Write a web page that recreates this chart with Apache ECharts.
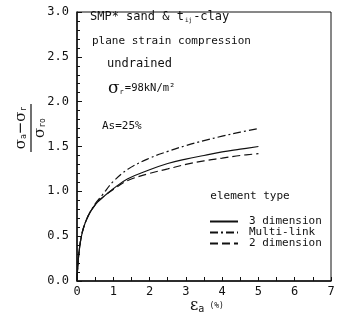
<!DOCTYPE html>
<html>
<head>
<meta charset="utf-8">
<script src="https://cdn.jsdelivr.net/npm/echarts@6/dist/echarts.min.js"></script>
<style>
  html, body { margin: 0; padding: 0; background: #fff; }
  #chart { width: 338px; height: 322px; }
</style>
</head>
<body>
<div id="chart"></div>
<script>
// strain (%) sampled along the curves
const strain = [0, 0.05, 0.15, 0.3, 0.5, 0.7, 1.0, 1.4, 2.0, 2.5, 3.0, 3.5, 4.0, 4.5, 5.0];
// normalized deviator stress
const threeDim = [0, 0.3, 0.55, 0.72, 0.85, 0.93, 1.03, 1.14, 1.24, 1.31, 1.36, 1.40, 1.44, 1.47, 1.50];
const multiLink = [0, 0.3, 0.55, 0.72, 0.86, 0.96, 1.11, 1.245, 1.37, 1.445, 1.51, 1.565, 1.615, 1.66, 1.70];
const twoDim = [0, 0.3, 0.55, 0.72, 0.85, 0.93, 1.02, 1.12, 1.20, 1.25, 1.30, 1.34, 1.37, 1.40, 1.42];
const seriesNames = ['3 dimension', 'Multi-link', '2 dimension'];

const mono = '"DejaVu Sans Mono", "Liberation Mono", monospace';
const ink = '#111';

const pairs = (ys) => strain.map((x, i) => [x, ys[i]]);

const lineSeries = (name, ys, type) => ({
  name: name,
  type: 'line',
  data: pairs(ys),
  symbol: 'none',
  smooth: 0.4,
  lineStyle: { color: ink, width: 1.2, type: type },
  itemStyle: { color: ink },
  animation: false
});

const chart = echarts.init(document.getElementById('chart'));

chart.setOption({
  backgroundColor: '#fff',
  animation: false,
  grid: {
    left: 77, right: 7, top: 12, bottom: 41,
    show: true, borderColor: ink, borderWidth: 1
  },
  xAxis: {
    type: 'value',
    min: 0, max: 7, interval: 1,
    axisLine: { show: true, onZero: false, lineStyle: { color: ink, width: 1.5 } },
    axisTick: { show: true, inside: true, length: 4, lineStyle: { color: ink } },
    minorTick: { show: true, splitNumber: 2, length: 4, lineStyle: { color: ink } },
    axisLabel: { color: ink, fontFamily: mono, fontSize: 12, margin: 5 },
    splitLine: { show: false }
  },
  yAxis: {
    type: 'value',
    min: 0, max: 3, interval: 0.5,
    axisLine: { show: true, onZero: false, lineStyle: { color: ink, width: 1.5 } },
    axisTick: { show: true, inside: true, length: 5, lineStyle: { color: ink } },
    minorTick: { show: true, splitNumber: 5, length: 3, lineStyle: { color: ink } },
    axisLabel: {
      color: ink, fontFamily: mono, fontSize: 12, margin: 8,
      formatter: (v) => v.toFixed(1)
    },
    splitLine: { show: false }
  },
  legend: {
    data: seriesNames,
    orient: 'vertical',
    left: 209, top: 216,
    padding: 0,
    itemGap: 0,
    itemWidth: 28, itemHeight: 8,
    itemStyle: { opacity: 0 },
    textStyle: { color: ink, fontFamily: mono, fontSize: 11, lineHeight: 10, padding: [0, 0, 0, 6] }
  },
  series: [
    lineSeries(seriesNames[0], threeDim, 'solid'),
    lineSeries(seriesNames[1], multiLink, [8, 3, 2, 3]),
    lineSeries(seriesNames[2], twoDim, [8, 4])
  ],
  graphic: [
    {
      type: 'text', left: 90, top: 11,
      style: {
        text: 'SMP* sand & t{sub|ij}-clay',
        font: '12px ' + mono, fill: ink,
        rich: { sub: { fontSize: 6, fontFamily: mono, verticalAlign: 'bottom', padding: [6, 1, 0, 1] } }
      }
    },
    {
      type: 'text', left: 92, top: 36,
      style: { text: 'plane strain compression', font: '11px ' + mono, fill: ink }
    },
    {
      type: 'text', left: 107, top: 58,
      style: { text: 'undrained', font: '12px ' + mono, fill: ink }
    },
    {
      type: 'text', left: 108, top: 80,
      style: {
        text: '{sig|σ}{sub|r}=98kN/m²',
        font: '10.5px ' + mono, fill: ink,
        rich: {
          sig: { fontSize: 17, fontFamily: '"DejaVu Serif", serif', fill: ink },
          sub: { fontSize: 7, fontFamily: mono, padding: [7, 1, 0, 0], fill: ink }
        }
      }
    },
    {
      type: 'text', left: 102, top: 121,
      style: { text: 'As=25%', font: '11px ' + mono, fill: ink }
    },
    {
      type: 'text', x: 250, y: 196,
      style: { text: 'element type', font: '11px ' + mono, fill: ink, align: 'center', verticalAlign: 'middle' }
    },
    {
      type: 'text', x: 207, y: 306,
      style: {
        text: 'ε{sub|a} {pc|(%)}',
        font: '16px "DejaVu Serif", serif', fill: ink, align: 'center', verticalAlign: 'middle',
        rich: {
          sub: { fontSize: 10, fontFamily: mono, padding: [6, 0, 0, 0], fill: ink },
          pc: { fontSize: 8, fontFamily: mono, fill: ink }
        }
      }
    },
    {
      type: 'text', x: 21, y: 128, rotation: Math.PI / 2,
      style: {
        text: 'σ{sub|a}−σ{sub|r}',
        font: '15px "DejaVu Serif", serif', fill: ink, align: 'center', verticalAlign: 'middle',
        rich: { sub: { fontSize: 8, fontFamily: mono, padding: [6, 0, 0, 0], fill: ink } }
      }
    },
    {
      type: 'line',
      shape: { x1: 31, y1: 104, x2: 31, y2: 152 },
      style: { stroke: ink, lineWidth: 1.2 }
    },
    {
      type: 'text', x: 40, y: 128, rotation: Math.PI / 2,
      style: {
        text: 'σ{sub|ro}',
        font: '15px "DejaVu Serif", serif', fill: ink, align: 'center', verticalAlign: 'middle',
        rich: { sub: { fontSize: 8, fontFamily: mono, padding: [6, 0, 0, 0], fill: ink } }
      }
    }
  ]
});
</script>
</body>
</html>
